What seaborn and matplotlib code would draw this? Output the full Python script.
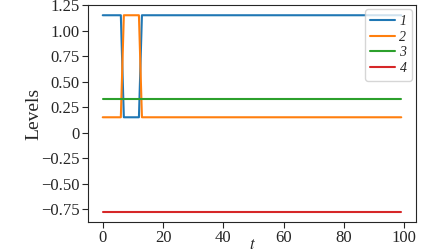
import numpy as np
import pandas as pd
import matplotlib
matplotlib.use("Agg")
import matplotlib.pyplot as plt
from matplotlib.ticker import FuncFormatter
import seaborn as sns

# data
t = np.arange(100)
high, low = 1.15, 0.15
switch_start, switch_end = 7, 13
level_1 = [low if switch_start <= v < switch_end else high for v in t]
level_2 = [high if switch_start <= v < switch_end else low for v in t]
level_3 = [0.33] * len(t)
level_4 = [-0.78] * len(t)
labels = ["1", "2", "3", "4"]

df = pd.DataFrame({
    "t": np.tile(t, 4),
    "Levels": level_1 + level_2 + level_3 + level_4,
    "series": np.repeat(labels, len(t)),
})

sns.set_style("ticks")
plt.rcParams["font.family"] = ["Liberation Serif", "DejaVu Serif"]
plt.rcParams["mathtext.fontset"] = "stix"

fig = plt.figure(figsize=(4.48, 2.52), dpi=100)
ax = fig.add_axes([0.196, 0.119, 0.733, 0.861])
sns.lineplot(data=df, x="t", y="Levels", hue="series",
             palette="tab10", linewidth=1.5, ax=ax)

ax.set_xticks([0, 20, 40, 60, 80, 100])
ax.set_yticks([-0.75, -0.5, -0.25, 0, 0.25, 0.5, 0.75, 1.0, 1.25])
ax.yaxis.set_major_formatter(
    FuncFormatter(lambda v, p: "0" if abs(v) < 1e-9 else f"{v:.2f}".replace("-", "\u2212")))
ax.tick_params(labelsize=12, length=4, pad=2)
ax.set_xlabel("$t$", fontsize=12, labelpad=-7)
ax.set_ylabel("Levels", fontsize=14, labelpad=-1)

leg = ax.legend(loc="upper right", handlelength=1.8, borderaxespad=0.3,
                labelspacing=0.2, handletextpad=0.3,
                prop={"style": "italic", "size": 10})
leg.set_title(None)

fig.savefig("out.png", dpi=100)
